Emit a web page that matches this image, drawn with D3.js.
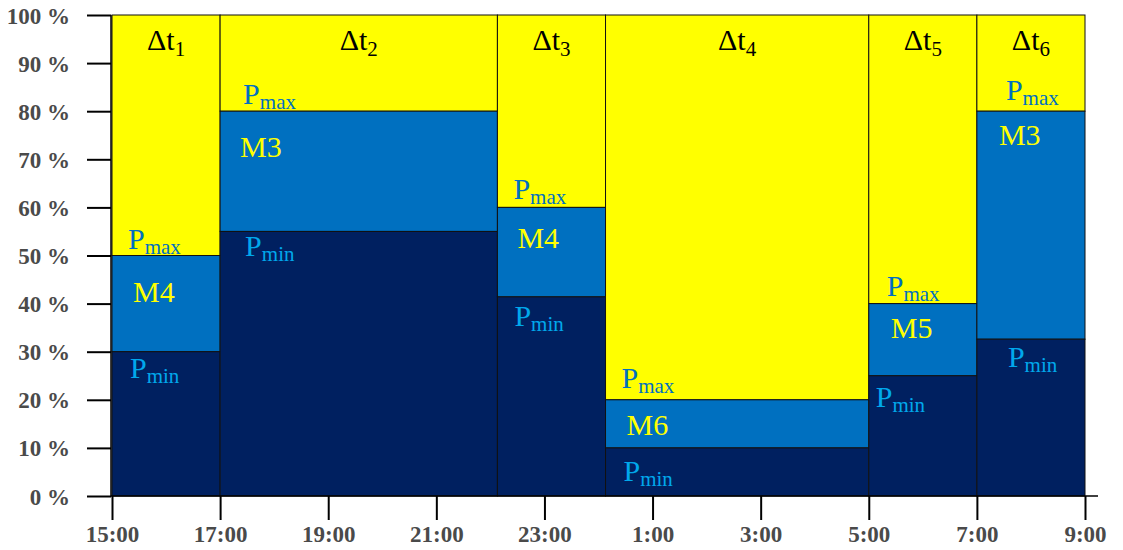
<!DOCTYPE html>
<html>
<head>
<meta charset="utf-8">
<script src="https://cdn.jsdelivr.net/npm/d3@7"></script>
<style>
  body { margin: 0; background: #fff; }
  svg text { font-family: "Liberation Serif", "Times New Roman", Times, "DejaVu Serif", serif !important; }
</style>
</head>
<body>
<svg id="chart" width="1123" height="550"></svg>
<script>
// hours after 15:00
const segStart = [0, 2, 7.13, 9.13, 14, 16];
const segEnd = [2, 7.13, 9.13, 14, 16, 18];
const pMax = [50, 80, 60, 20, 40, 80];
const pMin = [30, 55, 41.4, 10, 25, 32.6];
const modes = ["M4", "M3", "M4", "M6", "M5", "M3"];
const dtIndex = ["1", "2", "3", "4", "5", "6"];

const xTickHours = [0, 2, 4, 6, 8, 10, 12, 14, 16, 18];
const xTickLabels = ["15:00", "17:00", "19:00", "21:00", "23:00", "1:00", "3:00", "5:00", "7:00", "9:00"];
const yTicks = [0, 10, 20, 30, 40, 50, 60, 70, 80, 90, 100];

// label nudges (px) inside each segment, just layout
const maxDx = [16, 23, 16, 16, 18, 29], maxDy = [7, 7, 8, 12, 8, 11];
const modeDx = [21, 20, 20, 21, 22, 22], modeDy = [46, 46, 41, 35, 34, 34];
const minDx = [18, 25, 17, 18, 7, 31], minDy = [26, 25, 29, 33, 31, 28];

const colYellow = "#ffff00", colMid = "#0070c0", colDark = "#002060";

const svg = d3.select("#chart");
const x = d3.scaleLinear().domain([0, 18]).range([112, 1085]);
const y = d3.scaleLinear().domain([0, 100]).range([496, 15]);

const segs = segStart.map((s, i) => ({
  i, s, e: segEnd[i], max: pMax[i], min: pMin[i], mode: modes[i], idx: dtIndex[i]
}));

// three stacked bands per segment
const bands = [];
segs.forEach(d => {
  bands.push({ d, lo: d.max, hi: 100, fill: colYellow });
  bands.push({ d, lo: d.min, hi: d.max, fill: colMid });
  bands.push({ d, lo: 0, hi: d.min, fill: colDark });
});

svg.append("g").selectAll("rect").data(bands).join("rect")
  .attr("x", b => x(b.d.s))
  .attr("y", b => y(b.hi))
  .attr("width", b => x(b.d.e) - x(b.d.s))
  .attr("height", b => y(b.lo) - y(b.hi))
  .attr("fill", b => b.fill)
  .attr("stroke", "#111")
  .attr("stroke-width", 1);

// axes
const yAxis = svg.append("g").attr("transform", "translate(111,0)")
  .call(d3.axisLeft(y).tickValues(yTicks).tickSize(24).tickFormat(v => v + " %"));
yAxis.select(".domain").attr("stroke", "#000").attr("stroke-width", 1.5).attr("d", `M0,${y(100)}V${y(0)}`);
yAxis.selectAll(".tick line").attr("stroke", "#000").attr("stroke-width", 2);
yAxis.selectAll(".tick text")
  .attr("x", -41).attr("dy", "0.35em")
  .attr("fill", "#4a4a4a").attr("font-size", 23).attr("font-weight", "bold");

const xAxis = svg.append("g").attr("transform", "translate(0,496)")
  .call(d3.axisBottom(x).tickValues(xTickHours).tickSize(24).tickFormat((v, i) => xTickLabels[i]));
xAxis.select(".domain").attr("stroke", "#000").attr("stroke-width", 1.5).attr("d", "M111,0H1098");
xAxis.selectAll(".tick line").attr("stroke", "#000").attr("stroke-width", 2);
xAxis.selectAll(".tick text")
  .attr("y", 46).attr("dy", 0)
  .attr("fill", "#4a4a4a").attr("font-size", 23).attr("font-weight", "bold");

// labels
const lab = svg.append("g").selectAll("g").data(segs).join("g");

function subText(sel, main, sub, color, size, subSize, shift) {
  sel.attr("fill", color).attr("font-size", size);
  sel.append("tspan").text(main);
  sel.append("tspan").attr("font-size", subSize).attr("dy", shift).text(sub);
}

lab.append("text")
  .attr("x", d => (x(d.s) + x(d.e)) / 2)
  .attr("y", 50)
  .attr("text-anchor", "middle")
  .each(function(d) { subText(d3.select(this), "\u0394t", d.idx, "#000", 30, 21, 6); });

lab.append("text")
  .attr("x", d => x(d.s) + maxDx[d.i])
  .attr("y", d => y(d.max) - maxDy[d.i])
  .each(function() { subText(d3.select(this), "P", "max", colMid, 30, 21, 5); });

lab.append("text")
  .attr("x", d => x(d.s) + modeDx[d.i])
  .attr("y", d => y(d.max) + modeDy[d.i])
  .attr("fill", colYellow).attr("font-size", 30)
  .text(d => d.mode);

lab.append("text")
  .attr("x", d => x(d.s) + minDx[d.i])
  .attr("y", d => y(d.min) + minDy[d.i])
  .each(function() { subText(d3.select(this), "P", "min", "#00a8ec", 30, 21, 5); });
</script>
</body>
</html>
